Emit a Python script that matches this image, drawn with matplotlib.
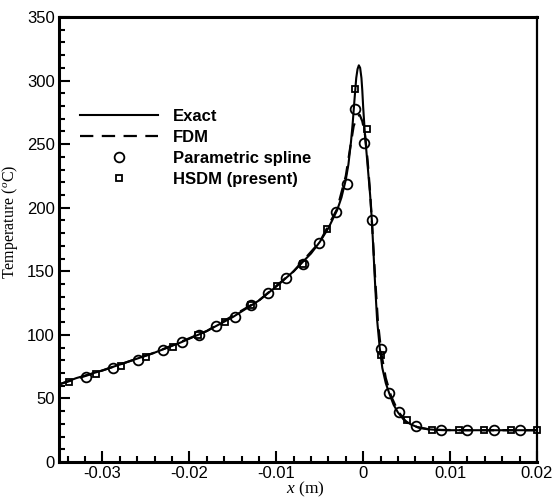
"""Temperature profile: exact solution vs FDM, parametric spline and HSDM."""

import matplotlib
matplotlib.use("Agg")
import matplotlib.pyplot as plt
from matplotlib.lines import Line2D


# exact solution
exact_x = [-0.035, -0.033, -0.030, -0.027, -0.024, -0.021, -0.018, -0.015, -0.012,
           -0.010, -0.008, -0.006, -0.005, -0.004, -0.003, -0.0025, -0.002, -0.0017,
           -0.0014, -0.0012, -0.0010, -0.0008, -0.00065, -0.0005, -0.00035, -0.0002,
           -0.0001, 0.0000, 0.0002, 0.0004, 0.0006, 0.0008, 0.0010, 0.0012, 0.0014,
           0.0016, 0.0019, 0.0022, 0.0026, 0.0030, 0.0035, 0.0040, 0.0047, 0.0055,
           0.0064, 0.0074, 0.0085, 0.010, 0.013, 0.016, 0.020]
exact_T = [61, 66, 72, 79, 86, 94, 103, 114, 127,
           138, 150, 164, 173, 184, 198, 208, 222, 234,
           252, 267, 285, 302, 309, 312, 310, 302,
           292, 279, 258, 242, 226, 210, 190, 163, 136,
           112, 90, 74, 62, 54, 45, 39, 33, 29.5,
           27, 25.8, 25.2, 25, 25, 25, 25]

# finite difference solution (dashed)
fdm_x = [-0.035, -0.030, -0.024, -0.018, -0.012, -0.008, -0.005, -0.003, -0.002,
         -0.0015, -0.0011, -0.0007, -0.0004, -0.0001, 0.0002, 0.0005, 0.0008,
         0.0011, 0.0014, 0.0017, 0.0021, 0.0026, 0.0032, 0.0040, 0.0050, 0.0062,
         0.0075, 0.0090, 0.012, 0.016, 0.020]
fdm_T = [61, 72, 86, 103, 127, 150, 173, 199, 225,
         247, 264, 272, 273, 268, 258, 238, 212,
         178, 142, 110, 85, 66, 52, 40, 31, 27.5,
         25.8, 25.2, 25, 25, 25]

# parametric spline points (circles)
spline_x = [-0.0319, -0.0288, -0.0259, -0.0230, -0.0209, -0.0189, -0.0169, -0.0148,
            -0.0129, -0.0109, -0.0089, -0.0069, -0.0051, -0.0031, -0.0019, -0.00092,
            0.00015, 0.0010, 0.0020, 0.0030, 0.0041, 0.0061, 0.0090, 0.0120, 0.0150,
            0.0181]
spline_T = [67, 74, 80, 88, 94, 100, 107, 114,
            123.5, 133, 145, 156, 172.5, 197, 219, 278,
            251, 190, 89, 54, 39, 28, 25, 25, 25,
            25]

# HSDM (present) points (squares)
hsdm_x = [-0.0339, -0.0308, -0.0279, -0.0250, -0.0219, -0.0190, -0.0159, -0.0129,
          -0.0099, -0.0069, -0.0042, -0.00092, 0.00042, 0.0020, 0.0050, 0.0079,
          0.0110, 0.0139, 0.0170, 0.0200]
hsdm_T = [63, 69, 75.3, 82.4, 90.7, 100, 110, 123.5,
          138.5, 156, 183, 293, 262, 84, 33, 25.2,
          25, 25, 25, 25]

x_ticks = [-0.03, -0.02, -0.01, 0.0, 0.01, 0.02]
x_tick_labels = ["-0.03", "-0.02", "-0.01", "0", "0.01", "0.02"]
y_ticks = [0, 50, 100, 150, 200, 250, 300, 350]


def main() -> None:
    plt.rcParams.update({
        "font.family": ["Liberation Sans", "DejaVu Sans"],
        "mathtext.fontset": "custom",
        "mathtext.rm": "Liberation Serif",
        "mathtext.it": "Liberation Serif:italic",
        "axes.unicode_minus": False,
    })

    fig = plt.figure(figsize=(5.56, 5.0), dpi=100)
    ax = fig.add_axes([59 / 556, 1 - 462 / 500, 478 / 556, 445 / 500])

    ax.plot(exact_x, exact_T, color="black", linewidth=1.5, label="Exact")
    ax.plot(fdm_x, fdm_T, color="black", linewidth=1.6, linestyle=(0, (6.0, 3.8)),
            label="FDM")
    ax.plot(spline_x, spline_T, linestyle="none", marker="o", markersize=7,
            markerfacecolor="none", markeredgecolor="black", markeredgewidth=1.3,
            label="Parametric spline")
    ax.plot(hsdm_x, hsdm_T, linestyle="none", marker="s", markersize=4.8,
            markerfacecolor="none", markeredgecolor="black", markeredgewidth=1.3,
            label="HSDM (present)", clip_on=False)

    ax.set_xlim(-0.035, 0.02)
    ax.set_ylim(0, 350)
    ax.set_xticks(x_ticks)
    ax.set_xticklabels(x_tick_labels)
    ax.set_yticks(y_ticks)
    ax.set_xticks([i * 0.002 - 0.034 for i in range(28)], minor=True)
    ax.set_yticks(range(0, 351, 10), minor=True)
    ax.tick_params(which="both", direction="in", top=False, right=False,
                   labelsize=12, width=1.5, colors="black")
    ax.tick_params(which="major", length=8, pad=3)
    ax.tick_params(which="minor", length=4.5)

    for side in ["left", "bottom", "top"]:
        ax.spines[side].set_linewidth(2.2)
    ax.spines["right"].set_linewidth(1.6)

    ax.set_xlabel(r"$x$ (m)", fontsize=12.5, family="Liberation Serif")
    ax.set_ylabel(r"Temperature ($^{o}$C)", fontsize=11.5, family="Liberation Serif")
    ax.yaxis.set_label_coords(-0.082, 0.54)
    ax.xaxis.set_label_coords(0.515, -0.04)

    handles = [
        Line2D([], [], color="black", linewidth=1.5),
        Line2D([], [], color="black", linewidth=1.6, linestyle=(0, (6.0, 3.8))),
        Line2D([], [], linestyle="none", marker="o", markersize=7,
               markerfacecolor="none", markeredgecolor="black", markeredgewidth=1.3),
        Line2D([], [], linestyle="none", marker="s", markersize=4.8,
               markerfacecolor="none", markeredgecolor="black", markeredgewidth=1.3),
    ]
    labels = ["Exact", "FDM", "Parametric spline", "HSDM (present)"]
    ax.legend(handles, labels, loc="upper left", bbox_to_anchor=(0.030, 0.809),
              frameon=False, handlelength=4.67, handletextpad=0.9,
              labelspacing=0.37, borderaxespad=0,
              prop={"family": "Liberation Sans", "weight": "bold", "size": 12})

    fig.savefig("out.png", dpi=100)
    plt.close(fig)


if __name__ == "__main__":
    main()
